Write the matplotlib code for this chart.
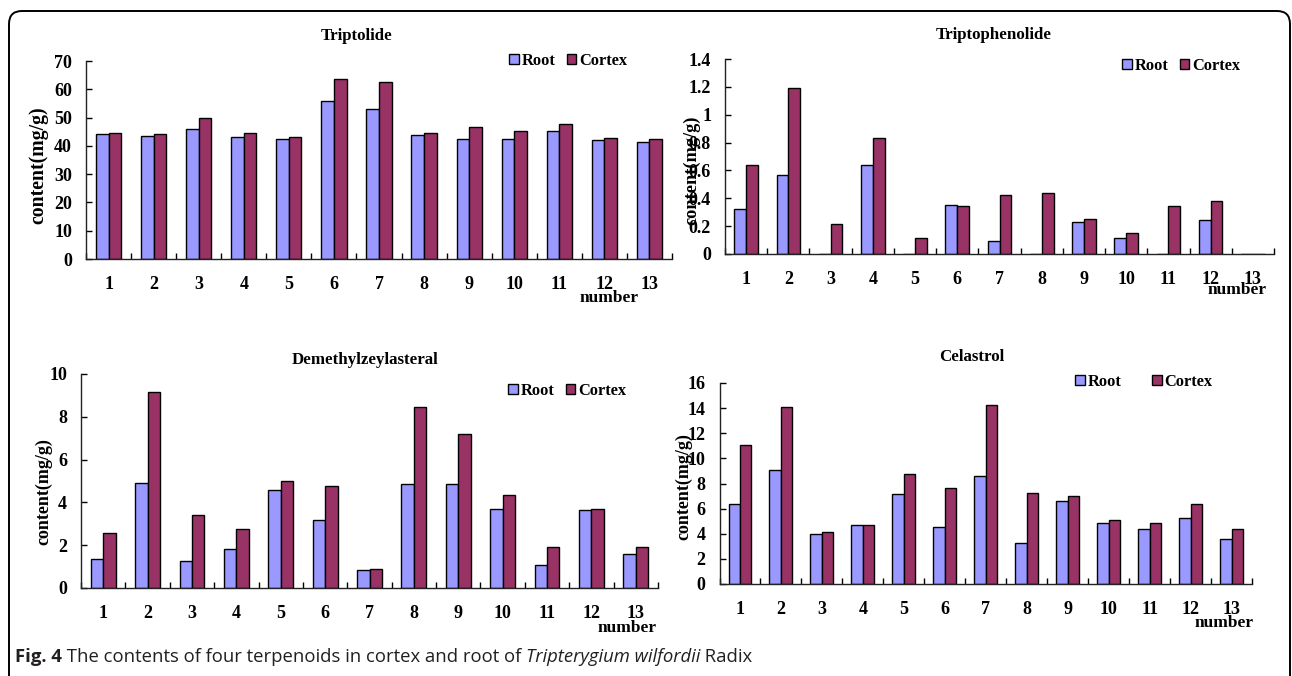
import numpy as np
import matplotlib
matplotlib.use("Agg")
import matplotlib.pyplot as plt
from matplotlib.patches import FancyBboxPatch
from matplotlib.transforms import IdentityTransform

# data (samples 1-13)
numbers = [str(i) for i in range(1, 14)]

triptolide_root = [44.2, 43.6, 45.8, 43.1, 42.4, 56.0, 53.2, 43.9, 42.4, 42.4, 45.4, 41.9, 41.5]
triptolide_cortex = [44.7, 44.1, 49.9, 44.5, 43.3, 63.8, 62.4, 44.5, 46.6, 45.1, 47.8, 42.7, 42.3]

triptophenolide_root = [0.32, 0.565, 0, 0.64, 0, 0.352, 0.093, 0, 0.228, 0.112, 0, 0.245, 0]
triptophenolide_cortex = [0.64, 1.195, 0.215, 0.83, 0.117, 0.346, 0.425, 0.44, 0.25, 0.15, 0.346, 0.382, 0]

demethyl_root = [1.36, 4.92, 1.28, 1.83, 4.59, 3.2, 0.83, 4.87, 4.84, 3.7, 1.06, 3.64, 1.59]
demethyl_cortex = [2.56, 9.17, 3.39, 2.78, 5.0, 4.75, 0.87, 8.48, 7.2, 4.36, 1.9, 3.7, 1.9]

celastrol_root = [6.35, 9.1, 3.97, 4.68, 7.14, 4.5, 8.57, 3.23, 6.59, 4.84, 4.37, 5.29, 3.57]
celastrol_cortex = [11.08, 14.05, 4.15, 4.68, 8.76, 7.67, 14.23, 7.27, 7.01, 5.1, 4.89, 6.35, 4.37]

ROOT_C = "#9999FF"
CORTEX_C = "#993366"
W, H = 1292, 676
SERIF = "Liberation Serif"

fig = plt.figure(figsize=(W / 100, H / 100), dpi=100)
fig.patch.set_facecolor("white")


def px_axes(x0, x1, ytop, ybot):
    return fig.add_axes([x0 / W, 1 - ybot / H, (x1 - x0) / W, (ybot - ytop) / H])


def panel(box, root, cortex, ymax, ystep, title, title_xy, leg_xy, colsp, num_xy, ylab_xy, ylab_size):
    ax = px_axes(*box)
    x = np.arange(1, len(numbers) + 1)
    w = 0.28
    b1 = ax.bar(x - w / 2, root, w, color=ROOT_C, edgecolor="black", linewidth=1.0, label="Root")
    b2 = ax.bar(x + w / 2, cortex, w, color=CORTEX_C, edgecolor="black", linewidth=1.0, label="Cortex")
    ax.set_xlim(0.5, len(numbers) + 0.5)
    ax.set_ylim(0, ymax)
    ax.set_yticks(np.arange(0, ymax + ystep / 2, ystep))
    ax.yaxis.set_major_formatter(matplotlib.ticker.FormatStrFormatter("%g"))
    ax.set_xticks(x)
    ax.set_xticklabels(numbers)
    ax.set_xticks(np.arange(0.5, len(numbers) + 1), minor=True)
    ax.tick_params(axis="x", which="major", length=0, pad=12)
    ax.tick_params(axis="x", which="minor", length=4, direction="in", width=1)
    ax.tick_params(axis="y", length=4, direction="in", width=1, pad=10)
    for lab in ax.get_xticklabels() + ax.get_yticklabels():
        lab.set_fontfamily(SERIF)
        lab.set_fontweight("bold")
        lab.set_fontsize(13)
    for s in ["top", "right"]:
        ax.spines[s].set_visible(False)
    for s in ["left", "bottom"]:
        ax.spines[s].set_linewidth(1.0)
        ax.spines[s].set_color("#222222")
    fig.text(title_xy[0] / W, 1 - title_xy[1] / H, title, ha="center", va="center",
             family=SERIF, weight="bold", fontsize=12.2)
    ax.legend(handles=[b1, b2], ncol=2, loc="center left",
              bbox_to_anchor=(leg_xy[0] / W, 1 - leg_xy[1] / H), bbox_transform=fig.transFigure,
              frameon=False, handlelength=0.6, handleheight=0.6, handletextpad=0.15,
              columnspacing=colsp, borderpad=0, borderaxespad=0,
              prop={"family": SERIF, "weight": "bold", "size": 11.8})
    fig.text(num_xy[0] / W, 1 - num_xy[1] / H, "number", ha="center", va="center",
             family=SERIF, weight="bold", fontsize=12.5)
    fig.text(ylab_xy[0] / W, 1 - ylab_xy[1] / H, "content(mg/g)", ha="center", va="center",
             rotation=90, family=SERIF, weight="bold", fontsize=ylab_size)
    return ax


panel((86, 672, 61, 259), triptolide_root, triptolide_cortex, 70, 10,
      "Triptolide", (357, 36), (509, 61), 0.7, (609, 298), (38, 165), 14.2)
panel((725, 1274, 59, 254), triptophenolide_root, triptophenolide_cortex, 1.4, 0.2,
      "Triptophenolide", (994, 35), (1122, 66), 0.7, (1237, 290), (692, 170), 13.2)
panel((81, 658, 374, 588), demethyl_root, demethyl_cortex, 10, 2,
      "Demethylzeylasteral", (365, 360), (508, 391), 0.7, (627, 628), (44, 492), 13)
panel((719.5, 1252, 383, 584), celastrol_root, celastrol_cortex, 16, 2,
      "Celastrol", (972, 357), (1075, 382), 1.9, (1224, 623), (684, 487), 13)

# rounded frame round the figure
frame = FancyBboxPatch((9, -30), 1281, 676 - 11 + 30, boxstyle="round,pad=0,rounding_size=13",
                       transform=IdentityTransform(), fill=False, edgecolor="black", linewidth=1.4)
fig.add_artist(frame)

# caption, built from pieces so the bold and italic parts line up
cap_y = 1 - 657 / H
pieces = [("Fig. 4", "bold", "normal"),
          (" The contents of four terpenoids in cortex and root of ", "normal", "normal"),
          ("Tripterygium wilfordii", "normal", "italic"),
          (" Radix", "normal", "normal")]
fig.canvas.draw()
r = fig.canvas.get_renderer()
xpos = 15
for txt, wt, st in pieces:
    t = fig.text(xpos / W, cap_y, txt, ha="left", va="center", family="Open Sans",
                 weight=wt, style=st, fontsize=13.3, color="#231f20")
    xpos += t.get_window_extent(renderer=r).width

fig.savefig("out.png", dpi=100)
